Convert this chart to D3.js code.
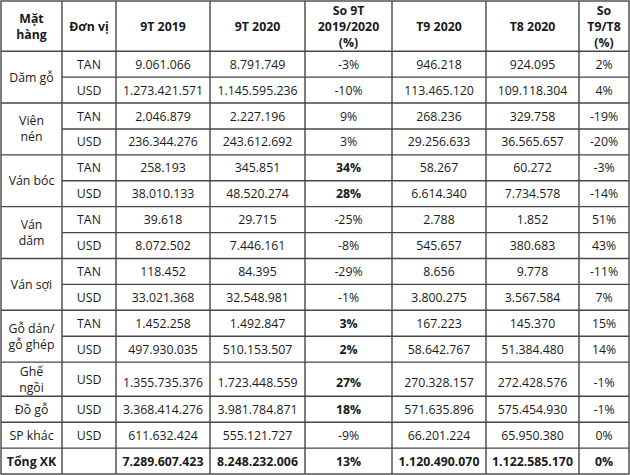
<!DOCTYPE html>
<html><head><meta charset="utf-8">
<script src="https://cdn.jsdelivr.net/npm/d3@7"></script>
<style>body{margin:0;background:#fff}svg{display:block}</style>
</head><body><svg id="c" width="630" height="475"></svg>
<script>
// ---------- DATA ----------
const headers = [["Mặt","hàng"],["Đơn vị"],["9T 2019"],["9T 2020"],["So 9T","2019/2020","(%)"],["T9 2020"],["T8 2020"],["So","T9/T8","(%)"]];
const products = [["Dăm gỗ"],["Viên","nén"],["Ván bóc"],["Ván","dăm"],["Ván sợi"],["Gỗ dán/","gỗ ghép"],["Ghế","ngồi"],["Đồ gỗ"],["SP khác"],["Tổng XK"]];
const productRowCount = [2,2,2,2,2,2,1,1,1,1];
const units = ["TAN","USD","TAN","USD","TAN","USD","TAN","USD","TAN","USD","TAN","USD","USD","USD","USD",""];
const val9T2019 = [9061066,1273421571,2046879,236344276,258193,38010133,39618,8072502,118452,33021368,1452258,497930035,1355735376,3368414276,611632424,7289607423];
const val9T2020 = [8791749,1145595236,2227196,243612692,345851,48520274,29715,7446161,84395,32548981,1492847,510153507,1723448559,3981784871,555121727,8248232006];
const pct9T = [-3,-10,9,3,34,28,-25,-8,-29,-1,3,2,27,18,-9,13];
const valT9 = [946218,113465120,268236,29256633,58267,6614340,2788,545657,8656,3800275,167223,58642767,270328157,571635896,66201224,1120490070];
const valT8 = [924095,109118304,329758,36565657,60272,7734578,1852,380683,9778,3567584,145370,51384480,272428576,575454930,65950380,1122585170];
const pctT9T8 = [2,4,-19,-20,-3,-14,51,43,-11,7,15,14,-1,-1,0,0];
const emphasisPct9T = [4,5,10,11,12,13,15];
const totalRow = 15;

// ---------- LAYOUT ----------
const svg = d3.select("#c");
const W = 630, H = 475;
const colEdges = [1,62,116,210,305,392,486,579,629];
const nRows = units.length;
const rowWeight = i => i === -1 ? 1.94 : (i === 12 ? 1.32 : 1);
const cum = [0];
let acc = rowWeight(-1); cum.push(acc);
for (let i = 0; i < nRows; i++) { acc += rowWeight(i); cum.push(acc); }
const y = d3.scaleLinear().domain([0, acc]).range([1, 474]);
const x = d3.scaleOrdinal().domain(d3.range(colEdges.length)).range(colEdges);
const cx = c => (x(c) + x(c + 1)) / 2;
const rowTop = i => y(cum[i + 1]);
const rowBot = i => y(cum[i + 2]);
const rowMid = i => (rowTop(i) + rowBot(i)) / 2 + (i === 12 ? 3 : 0);

const vi = d3.formatLocale({decimal: ",", thousands: ".", grouping: [3], currency: ["", ""]});
const fmtN = vi.format(",d");
const fmtP = v => v + "%";

const FONT = "'Open Sans', 'Liberation Sans', sans-serif";
const FS = 12.3;
const LINE = "#474747";

svg.append("rect").attr("width", W).attr("height", H).attr("fill", "#fff");

const g = svg.append("g");
const text = (xx, yy, str, bold) => g.append("text")
  .attr("x", xx).attr("y", yy).attr("text-anchor", "middle")
  .attr("dominant-baseline", "central")
  .attr("font-family", FONT).attr("font-size", FS)
  .attr("font-weight", bold ? 700 : 400).attr("fill", "#1a1a1a").text(str);
const multi = (xx, yc, lines, bold, lh) => {
  const n = lines.length;
  lines.forEach((s, k) => text(xx, yc + (k - (n - 1) / 2) * lh, s, bold));
};

// header
const hMid = (y(0) + y(cum[1])) / 2;
headers.forEach((h, c) => multi(cx(c), hMid, h, true, 16));

// product labels
let r = 0;
const groupBounds = [];
products.forEach((p, k) => {
  const top = rowTop(r), bot = rowBot(r + productRowCount[k] - 1);
  groupBounds.push([top, bot]);
  multi(cx(0), (top + bot) / 2, p, k === products.length - 1, 16);
  r += productRowCount[k];
});

// data cells
d3.range(nRows).forEach(i => {
  const bold = i === totalRow;
  text(cx(1), (rowTop(i) + rowBot(i)) / 2, units[i], false);
  text(cx(2), rowMid(i), fmtN(val9T2019[i]), bold);
  text(cx(3), rowMid(i), fmtN(val9T2020[i]), bold);
  text(cx(4), rowMid(i), fmtP(pct9T[i]), bold || emphasisPct9T.includes(i));
  text(cx(5), rowMid(i), fmtN(valT9[i]), bold);
  text(cx(6), rowMid(i), fmtN(valT8[i]), bold);
  text(cx(7), rowMid(i), fmtP(pctT9T8[i]), bold);
});

// grid lines
const lines = svg.append("g").attr("stroke", LINE).attr("stroke-width", 1.4).attr("fill", "none");
const groupEdges = new Set(groupBounds.map(b => Math.round(b[1] * 10)));
d3.range(nRows - 1).forEach(i => {
  const yy = rowBot(i);
  const isGroup = groupEdges.has(Math.round(yy * 10));
  lines.append("line").attr("x1", isGroup ? x(0) : x(1)).attr("x2", x(8)).attr("y1", yy).attr("y2", yy);
});
lines.append("line").attr("x1", x(0)).attr("x2", x(8)).attr("y1", y(cum[1])).attr("y2", y(cum[1]));
d3.range(1, 8).forEach(c => lines.append("line").attr("x1", x(c)).attr("x2", x(c)).attr("y1", y(0)).attr("y2", y(acc)));
lines.append("rect").attr("x", x(0)).attr("y", y(0)).attr("width", x(8) - x(0)).attr("height", y(acc) - y(0));
</script>
</body></html>
